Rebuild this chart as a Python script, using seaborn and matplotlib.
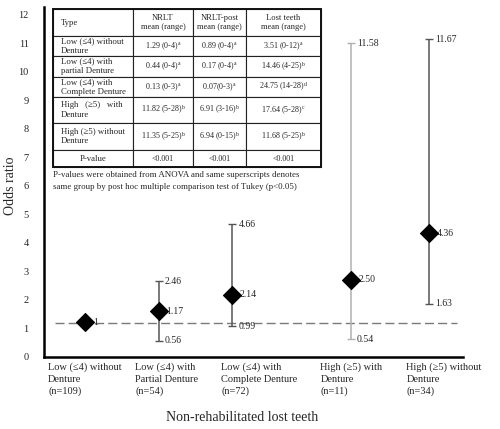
import numpy as np
import pandas as pd
import matplotlib
matplotlib.use("Agg")
import matplotlib.pyplot as plt
import seaborn as sns
from matplotlib.patches import Rectangle

# ---------------- data ----------------
groups = [
    "Low (\u22644) without\nDenture\n(n=109)",
    "Low (\u22644) with\nPartial Denture\n(n=54)",
    "Low (\u22644) with\nComplete Denture\n(n=72)",
    "High (\u22655) with\nDenture\n(n=11)",
    "High (\u22655) without\nDenture\n(n=34)",
]
group_x = [1.0, 2.0, 3.0, 4.61, 5.68]
odds_ratio = [1.21, 1.59, 2.17, 2.70, 4.33]
ci_lower = [np.nan, 0.56, 1.06, 0.62, 1.85]
ci_upper = [np.nan, 2.65, 4.64, 10.99, 11.14]
or_labels = ["1", "1.17", "2.14", "2.50", "4.36"]
lower_labels = ["", "0.56", "0.99", "0.54", "1.63"]
upper_labels = ["", "2.46", "4.66", "11.58", "11.67"]
reference_or = 1.18

table_header = ["Type", "NRLT\nmean (range)", "NRLT-post\nmean (range)", "Lost teeth\nmean (range)"]
table_types = [
    "Low (\u22644) without\nDenture",
    "Low (\u22644) with\npartial Denture",
    "Low (\u22644) with\nComplete Denture",
    "High   (\u22655)   with\nDenture",
    "High (\u22655) without\nDenture",
    "P-value",
]
nrlt = ["1.29 (0-4)", "0.44 (0-4)", "0.13 (0-3)", "11.82 (5-28)", "11.35 (5-25)", "<0.001"]
nrlt_sup = ["a", "a", "a", "b", "b", ""]
nrlt_post = ["0.89 (0-4)", "0.17 (0-4)", "0.07(0-3)", "6.91 (3-16)", "6.94 (0-15)", "<0.001"]
nrlt_post_sup = ["a", "a", "a", "b", "b", ""]
lost_teeth = ["3.51 (0-12)", "14.46 (4-25)", "24.75 (14-28)", "17.64 (5-28)", "11.68 (5-25)", "<0.001"]
lost_teeth_sup = ["a", "b", "d", "c", "b", ""]
footnote = ("P-values were obtained from ANOVA and same superscripts denotes\n"
            "same group by post hoc multiple comparison test of Tukey (p<0.05)")

# ---------------- style ----------------
sns.set_style("white")
plt.rcParams["font.family"] = ["Liberation Serif", "DejaVu Serif"]
plt.rcParams["mathtext.fontset"] = "custom"
plt.rcParams["mathtext.rm"] = "Liberation Serif"
plt.rcParams["mathtext.it"] = "Liberation Serif:italic"

fig = plt.figure(figsize=(5, 4.29), dpi=100)
ax = fig.add_axes([0.088, 0.1685, 0.838, 0.815])

df = pd.DataFrame({"x": group_x, "or": odds_ratio})

# reference line
ax.axhline(reference_or, xmin=0.026, xmax=0.986, color="#7a7a7a", lw=1.0,
           linestyle=(0, (6.5, 3)), zorder=1)

err_colors = ["black", "#555555", "#555555", "#b0b0b0", "#555555"]
for i, x in enumerate(group_x):
    if np.isnan(ci_lower[i]):
        continue
    ax.errorbar(x, odds_ratio[i],
                yerr=[[odds_ratio[i] - ci_lower[i]], [ci_upper[i] - odds_ratio[i]]],
                fmt="none", ecolor=err_colors[i], elinewidth=1.1,
                capsize=3.2, capthick=1.0, zorder=2)
    ax.annotate(upper_labels[i], (x, ci_upper[i]), xytext=(4.6, 0),
                textcoords="offset points", va="center", ha="left", fontsize=7)
    ax.annotate(lower_labels[i], (x, ci_lower[i]), xytext=(4.6, 0),
                textcoords="offset points", va="center", ha="left", fontsize=7)

sns.scatterplot(data=df, x="x", y="or", marker="D", s=85, color="black",
                edgecolor="black", zorder=5, ax=ax, legend=False)
for i, x in enumerate(group_x):
    ax.annotate(or_labels[i], (x, odds_ratio[i]), xytext=(5.5, 0),
                textcoords="offset points", va="center", ha="left", fontsize=7)

# axes
ax.set_xlim(0.44, 6.14)
ax.set_ylim(0, 12.26)
ax.set_yticks(range(13))
label_x = [0.497, 1.68, 2.85, 4.20, 5.37]
ax.set_xticks(label_x)
ax.set_xticklabels(groups, ha="left", fontsize=7.5, linespacing=1.38)
ax.tick_params(axis="x", length=0, pad=4)
ax.tick_params(axis="y", length=0, pad=11, labelsize=7.5)
for s in ["top", "right"]:
    ax.spines[s].set_visible(False)
for s in ["left", "bottom"]:
    ax.spines[s].set_linewidth(1.8)
    ax.spines[s].set_color("black")

ax.set_xlabel("Non-rehabilitated lost teeth", fontsize=10)
ax.xaxis.label.set_va("center")
ax.xaxis.set_label_coords(0.474, -0.175)
ax.set_ylabel("Odds ratio", fontsize=10)
ax.yaxis.label.set_va("center")
ax.yaxis.set_label_coords(-0.08, 0.49)

# ---------------- table ----------------
def sup(v, s):
    return v + (r"$^{\mathrm{" + s + "}}$" if s else "")

rows = []
for i in range(len(table_types)):
    rows.append([table_types[i], sup(nrlt[i], nrlt_sup[i]),
                 sup(nrlt_post[i], nrlt_post_sup[i]),
                 sup(lost_teeth[i], lost_teeth_sup[i])])

col_px = [80, 60, 53, 75]
row_px = [27, 20, 21, 20, 26, 27, 17]
tbl_bbox = [0.0215, 0.5425, 0.6396, 0.4518]
tbl = ax.table(cellText=rows, colLabels=table_header,
               colWidths=[c / sum(col_px) for c in col_px],
               cellLoc="center", bbox=tbl_bbox)
tbl.auto_set_font_size(False)
for (r, c), cell in tbl.get_celld().items():
    cell.set_height(row_px[r] / sum(row_px))
    cell.set_linewidth(0.8)
    cell.set_edgecolor("#222222")
    t = cell.get_text()
    t.set_linespacing(1.3)
    if c == 0:
        t.set_fontsize(6.3)
        if not (r == len(row_px) - 1):
            t.set_ha("left")
    elif r == 0:
        t.set_fontsize(6.1)
    else:
        t.set_fontsize(5.8)
ax.add_patch(Rectangle((tbl_bbox[0], tbl_bbox[1]), tbl_bbox[2], tbl_bbox[3],
                       transform=ax.transAxes, fill=False, lw=1.4,
                       edgecolor="#111111", zorder=10))
ax.text(0.0215, 0.53, footnote, transform=ax.transAxes, ha="left", va="top",
        fontsize=6.4, linespacing=1.6)

fig.savefig("out.png", dpi=100, facecolor="white")
